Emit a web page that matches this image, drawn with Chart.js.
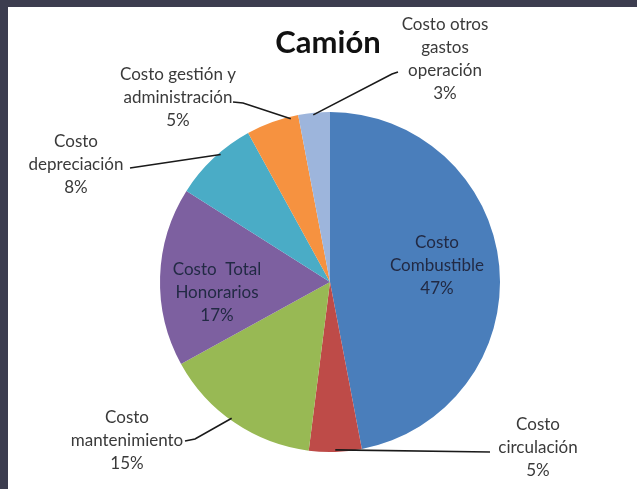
<!DOCTYPE html>
<html>
<head>
<meta charset="utf-8">
<script src="https://cdn.jsdelivr.net/npm/chart.js@4"></script>
<style>
  html, body { margin: 0; padding: 0; background: #3c3d4f; }
  #marco { position: absolute; left: 8px; top: 7px; width: 629px; height: 482px; background: #fff; }
  canvas { display: block; }
</style>
</head>
<body>
<div id="marco"><canvas id="torta" width="629" height="482"></canvas></div>
<script>
const titulo = 'Camión';
const categorias = [
  'Costo Combustible',
  'Costo circulación',
  'Costo mantenimiento',
  'Costo Total Honorarios',
  'Costo depreciación',
  'Costo gestión y administración',
  'Costo otros gastos operación'
];
const porcentajes = [47, 5, 15, 17, 8, 5, 3];
const colores = ['#4a7ebb', '#be4b48', '#98b954', '#7d60a0', '#4aacc6', '#f69240', '#9db5dc'];
// how each label is broken into lines in the picture
const lineas = [
  ['Costo', 'Combustible'],
  ['Costo', 'circulación'],
  ['Costo', 'mantenimiento'],
  ['Costo  Total', 'Honorarios'],
  ['Costo', 'depreciación'],
  ['Costo gestión y', 'administración'],
  ['Costo otros', 'gastos', 'operación']
];

// where labels sit (x = centre, y = first line) and the leader line start
const posEtiquetas = [
  { x: 429, y: 236, dentro: true },
  { x: 530, y: 418, guia: [[482, 445]], t: 0.5 },
  { x: 119, y: 411, guia: [[177, 434], [187, 432]], t: 0.53 },
  { x: 209, y: 263, dentro: true },
  { x: 68, y: 135, guia: [[122, 161]], t: 0.59 },
  { x: 170, y: 68, guia: [[225, 95], [235, 96]], t: 0.85 },
  { x: 437, y: 18, guia: [[390, 65], [384, 67]], t: 0.47 }
];
const altoLinea = 23;

const etiquetasPlugin = {
  id: 'etiquetas',
  afterDraw(chart) {
    const ctx = chart.ctx;
    const arcos = chart.getDatasetMeta(0).data;
    ctx.save();
    // title
    ctx.fillStyle = '#111';
    ctx.font = 'bold 31px Lato, "DejaVu Sans", sans-serif';
    ctx.textAlign = 'center';
    ctx.textBaseline = 'middle';
    ctx.fillText(titulo, 320, 36);

    ctx.font = '17px Lato, "DejaVu Sans", sans-serif';
    arcos.forEach((arco, i) => {
      const p = posEtiquetas[i];
      const txt = lineas[i].concat([porcentajes[i] + '%']);
      ctx.fillStyle = p.dentro ? '#222a44' : '#3a3a3a';
      txt.forEach((l, k) => ctx.fillText(l, p.x, p.y + k * altoLinea));
      if (p.guia) {
        const ang = arco.startAngle + (arco.endAngle - arco.startAngle) * p.t;
        const r = arco.outerRadius - 2;
        const ex = arco.x + Math.cos(ang) * r;
        const ey = arco.y + Math.sin(ang) * r;
        ctx.strokeStyle = '#1a1a1a';
        ctx.lineWidth = 1.6;
        ctx.beginPath();
        ctx.moveTo(p.guia[0][0], p.guia[0][1]);
        for (let k = 1; k < p.guia.length; k++) ctx.lineTo(p.guia[k][0], p.guia[k][1]);
        ctx.lineTo(ex, ey);
        ctx.stroke();
      }
    });
    ctx.restore();
  }
};

new Chart(document.getElementById('torta'), {
  type: 'pie',
  data: {
    labels: categorias,
    datasets: [{
      data: porcentajes,
      backgroundColor: colores,
      borderWidth: 0
    }]
  },
  options: {
    responsive: false,
    animation: false,
    layout: { padding: { left: 152, right: 137, top: 105, bottom: 37 } },
    plugins: {
      legend: { display: false },
      tooltip: { enabled: false }
    }
  },
  plugins: [etiquetasPlugin]
});
</script>
</body>
</html>
